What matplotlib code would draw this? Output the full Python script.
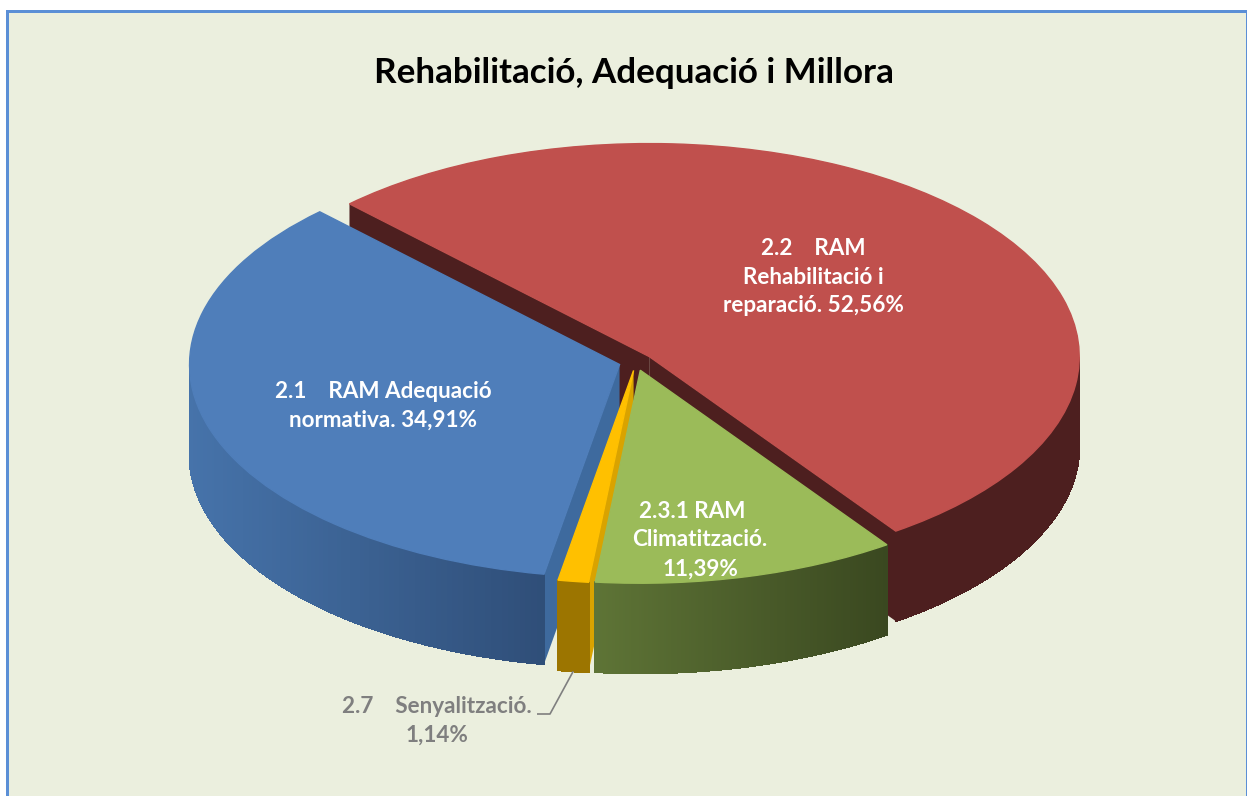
import numpy as np
import matplotlib
matplotlib.use("Agg")
import matplotlib.pyplot as plt
from matplotlib.collections import PolyCollection
from matplotlib.colors import to_rgb
from matplotlib.patches import Polygon, Rectangle

# ---- data (clockwise from the start angle) ----
names = ["2.2    RAM\nRehabilitació i\nreparació. 52,56%",
         "2.3.1 RAM\u00a0\u00a0\u00a0\nClimatització.\n11,39%",
         "2.7    Senyalització.\n1,14%",
         "2.1    RAM Adequació\nnormativa. 34,91%"]
values = [52.56, 11.39, 1.14, 34.91]
title = "Rehabilitació, Adequació i Millora"

# ---- style ----
W, H = 1247, 796
top_colors = ["#C0504D", "#9BBB59", "#FFC000", "#4F7EBA"]
cut_colors = ["#4D1F1F", "#5E7436", "#D9A300", "#3E6A9E"]
wall_left = ["#4D1F1F", "#5E7436", "#9C7500", "#4673AA"]
wall_right = ["#4D1F1F", "#3A4820", "#9C7500", "#2F4E78"]
layer = [1, 7, 5, 3]          # draw order of the slices
label_colors = ["white", "white", "#7F7F7F", "white"]
label_px = [(813, 277), (700, 540), (437, 721), (383, 406)]
bg = "#EBEFDE"
border = "#5B8FD6"

CX, CY, RX, RY = 636.0, 362.0, 430.0, 213.0   # pie centre / radii in pixels
DEPTH = 90.0 / RY
EXPLODE = 0.04
START = 134.2

plt.rcParams["font.family"] = ["Lato", "DejaVu Sans"]
fig = plt.figure(figsize=(W / 100, H / 100), dpi=100, facecolor="white")
ax = fig.add_axes([0, 0, 1, 1])

wedges, _ = ax.pie(values, startangle=START, counterclock=False, radius=1,
                   explode=[EXPLODE] * len(values))
ax.set_aspect("auto")
ax.set_xlim(-CX / RX, (W - CX) / RX)
ax.set_ylim((CY - H) / RY, CY / RY)
ax.axis("off")

# frame
fig.patches.append(Rectangle((6.5, -10), W - 6.5 - 0.5, H - 10.5 + 10, transform=None,
                             facecolor=bg, edgecolor=border, linewidth=2.16,
                             figure=fig, zorder=-5))

# walls and cut faces, derived from the values
spans = np.array(values) / sum(values) * 360.0
starts = START - np.concatenate(([0], np.cumsum(spans)[:-1]))
for i, (v, a0, span) in enumerate(zip(values, starts, spans)):
    a1 = a0 - span
    mid = np.radians(a0 - span / 2)
    cx, cy = EXPLODE * np.cos(mid), EXPLODE * np.sin(mid)
    z = layer[i]
    wedges[i].set_color(top_colors[i])
    wedges[i].set_zorder(z + 1)

    # cut faces facing the viewer
    for a, normal in ((a0, a0 + 90), (a1, a1 - 90)):
        if np.sin(np.radians(normal)) < 0:
            px = cx + np.cos(np.radians(a))
            py = cy + np.sin(np.radians(a))
            ax.add_patch(Polygon([(cx, cy), (px, py), (px, py - DEPTH), (cx, cy - DEPTH)],
                                 closed=True, facecolor=cut_colors[i], edgecolor="none",
                                 zorder=z))

    # outer wall: only the part on the near side of the ellipse
    th = np.radians(np.linspace(a1, a0, 160))
    th = th[np.sin(th) <= 0]
    if len(th) > 1:
        xs, ys = cx + np.cos(th), cy + np.sin(th)
        quads = [[(xs[k], ys[k]), (xs[k + 1], ys[k + 1]),
                  (xs[k + 1], ys[k + 1] - DEPTH), (xs[k], ys[k] - DEPTH)]
                 for k in range(len(th) - 1)]
        t = (xs[:-1] - xs.min()) / (xs.max() - xs.min())
        c0, c1 = np.array(to_rgb(wall_left[i])), np.array(to_rgb(wall_right[i]))
        cols = [tuple(c0 + (c1 - c0) * tk) for tk in t]
        ax.add_collection(PolyCollection(quads, facecolors=cols, edgecolors=cols,
                                         linewidths=0.8, antialiaseds=False, zorder=z))

# texts
fig.text(634 / W, 1 - 73 / H, title, ha="center", va="center", fontsize=25.2,
         fontweight="bold", color="black")
for name, col, (x, y) in zip(names, label_colors, label_px):
    fig.text(x / W, 1 - y / H, name, ha="center", va="center", ma="center",
             fontsize=16.2, fontweight="bold", color=col, linespacing=1.47, zorder=20)

# leader line of the small slice
i_small = int(np.argmin(values))
a_small = np.radians(starts[i_small] - spans[i_small] / 2)
sx = EXPLODE * np.cos(a_small) + np.cos(a_small)
sy = EXPLODE * np.sin(a_small) + np.sin(a_small) - DEPTH
ax.plot([sx, (550 - CX) / RX, (537 - CX) / RX],
        [sy, (CY - 714) / RY, (CY - 714) / RY],
        color="#7F7F7F", lw=1.2, zorder=20, solid_capstyle="butt")

fig.savefig("out.png", dpi=100, facecolor="white")
